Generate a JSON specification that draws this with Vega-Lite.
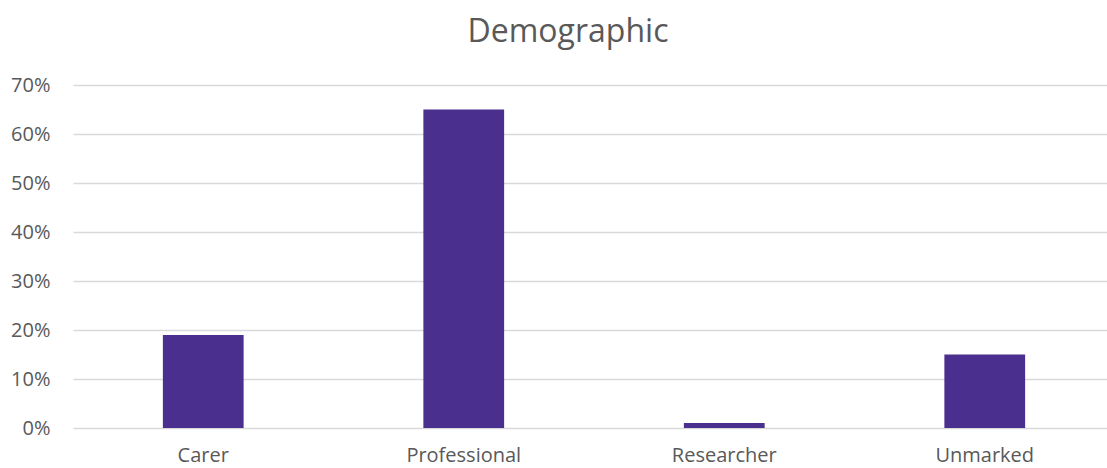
{
  "$schema": "https://vega.github.io/schema/vega-lite/v6.json",
  "autosize": "none",
  "width": 1042,
  "height": 343,
  "padding": {"left": 73, "top": 85, "right": 0, "bottom": 40},
  "background": "white",
  "title": {
    "text": "Demographic",
    "font": "Open Sans",
    "fontSize": 32,
    "fontWeight": "normal",
    "color": "#595959",
    "anchor": "middle",
    "frame": "group",
    "dx": -26,
    "offset": 26
  },
  "data": {
    "values": [
      {"category": "Carer", "share": 0.19},
      {"category": "Professional", "share": 0.65},
      {"category": "Researcher", "share": 0.01},
      {"category": "Unmarked", "share": 0.15}
    ]
  },
  "mark": {"type": "bar", "color": "#4B2F8F"},
  "encoding": {
    "x": {
      "field": "category",
      "type": "nominal",
      "sort": null,
      "scale": {"paddingInner": 0.69, "paddingOuter": 0.345},
      "axis": {
        "title": null,
        "labelAngle": 0,
        "labelFont": "Open Sans",
        "labelFontSize": 20,
        "labelColor": "#595959",
        "labelPadding": 17,
        "ticks": false,
        "domain": false,
        "grid": false
      }
    },
    "y": {
      "field": "share",
      "type": "quantitative",
      "scale": {"domain": [0, 0.7]},
      "axis": {
        "title": null,
        "format": ".0%",
        "values": [0, 0.1, 0.2, 0.3, 0.4, 0.5, 0.6, 0.7],
        "labelFont": "Open Sans",
        "labelFontSize": 20,
        "labelColor": "#595959",
        "labelPadding": 23,
        "ticks": false,
        "domain": false,
        "grid": true,
        "gridColor": "#D9D9D9",
        "gridWidth": 1.3
      }
    }
  },
  "config": {"view": {"stroke": null}}
}
